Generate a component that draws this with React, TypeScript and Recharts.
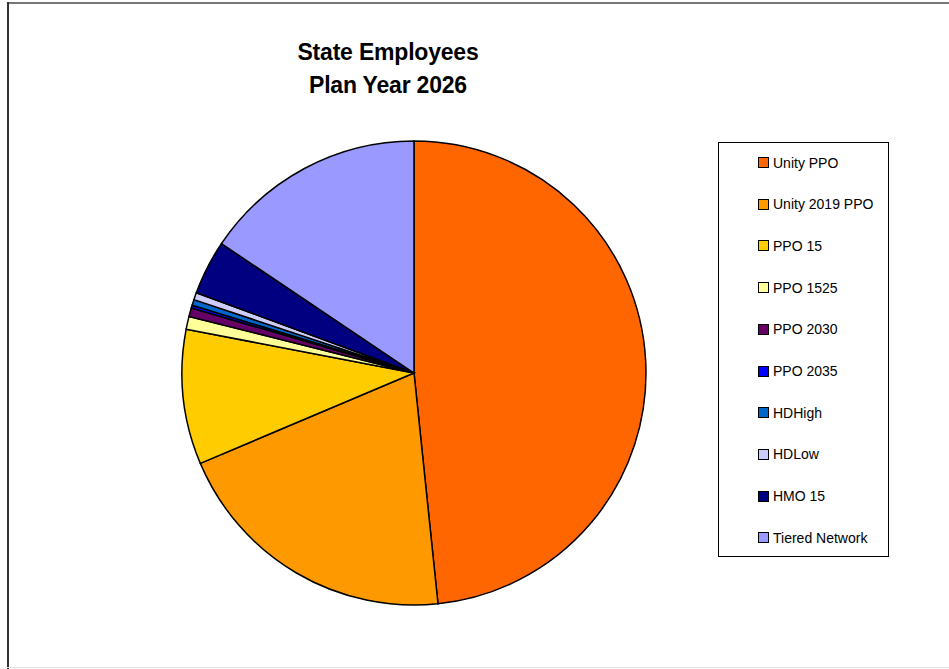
import React from 'react';
import { PieChart, Pie, Cell, Legend } from 'recharts';

const categories = [
  'Unity PPO',
  'Unity 2019 PPO',
  'PPO 15',
  'PPO 1525',
  'PPO 2030',
  'PPO 2035',
  'HDHigh',
  'HDLow',
  'HMO 15',
  'Tiered Network',
];
const shares = [48.4, 20.3, 9.4, 0.9, 0.6, 0.2, 0.4, 0.5, 3.8, 15.6];
const colors = [
  '#FF6600',
  '#FF9900',
  '#FFCC00',
  '#FFFF99',
  '#660066',
  '#0000FF',
  '#0066CC',
  '#CCCCFF',
  '#000080',
  '#9999FF',
];
const titleLines = ['State Employees', 'Plan Year 2026'];

const data = categories.map((name, i) => ({ name, value: shares[i] }));

const FONT = '"Liberation Sans", Arial, Helvetica, sans-serif';

const LegendBox = () => (
  <div
    style={{
      position: 'absolute',
      left: 718,
      top: 142,
      width: 171,
      height: 415,
      border: '1px solid #000',
      background: '#fff',
      boxSizing: 'border-box',
      fontFamily: FONT,
      fontSize: 14,
      color: '#000',
    }}
  >
    {categories.map((name, i) => (
      <div
        key={name}
        style={{
          position: 'absolute',
          left: 39,
          top: 19.5 + i * 41.7 - 8,
          height: 16,
          display: 'flex',
          alignItems: 'center',
          whiteSpace: 'nowrap',
        }}
      >
        <span
          style={{
            display: 'inline-block',
            width: 9,
            height: 9,
            background: colors[i],
            border: '1px solid #000',
            marginRight: 4,
          }}
        />
        <span>{name}</span>
      </div>
    ))}
  </div>
);

export default function App() {
  return (
    <div
      style={{
        position: 'absolute',
        left: 0,
        top: 0,
        width: 949,
        height: 669,
        background: '#fff',
        overflow: 'hidden',
      }}
    >
      <div style={{ position: 'absolute', left: 7, top: 2, width: 942, height: 2, background: '#777' }} />
      <div style={{ position: 'absolute', left: 7, top: 2, width: 2, height: 667, background: '#333' }} />
      <div style={{ position: 'absolute', left: 7, top: 667, width: 942, height: 1, background: '#ddd' }} />
      <div
        style={{
          position: 'absolute',
          left: 238,
          top: 36,
          width: 300,
          textAlign: 'center',
          fontFamily: FONT,
          fontWeight: 'bold',
          fontSize: 23,
          lineHeight: '33px',
          color: '#000',
          letterSpacing: -0.2,
        }}
      >
        {titleLines.map((t) => (
          <div key={t}>{t}</div>
        ))}
      </div>
      <div style={{ position: 'absolute', left: 0, top: 0 }}>
        <PieChart width={949} height={669} margin={{ top: 0, right: 0, bottom: 0, left: 0 }}>
          <Pie
            data={data}
            dataKey="value"
            nameKey="name"
            cx={414}
            cy={373}
            outerRadius={232}
            innerRadius={0}
            startAngle={90}
            endAngle={-270}
            stroke="#000"
            strokeWidth={1.5}
            isAnimationActive={false}
            label={false}
            labelLine={false}
          >
            {data.map((d, i) => (
              <Cell key={d.name} fill={colors[i]} />
            ))}
          </Pie>
          <Legend content={() => null} />
        </PieChart>
      </div>
      <LegendBox />
    </div>
  );
}
